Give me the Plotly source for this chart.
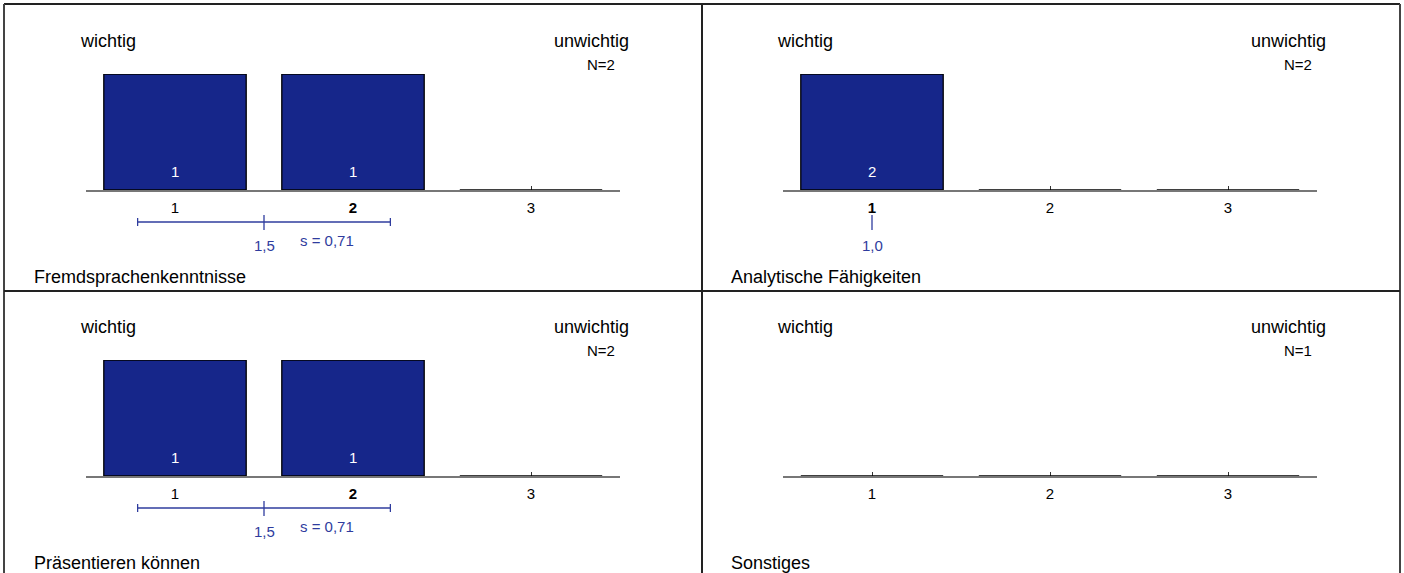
import plotly.graph_objects as go

# data
panel_titles = ["Fremdsprachenkenntnisse", "Analytische Fähigkeiten",
                "Präsentieren können", "Sonstiges"]
categories = [1, 2, 3]
counts = [
    [1, 1, 0],
    [2, 0, 0],
    [1, 1, 0],
    [0, 0, 0],
]
n_values = [2, 2, 2, 1]
means = [1.5, 1.0, 1.5, None]
std_devs = [0.71, 0.0, 0.71, None]
medians = [2, 1, 2, None]

W, H = 1404, 573
BAR_COLOR = "#16268a"
STAT_COLOR = "#2f3c9e"
FONT = "Arial, Liberation Sans, sans-serif"
BIG, SMALL = 18, 15


def px(x):
    return x / W


def py(y):
    return 1 - y / H


def de(v, fmt):
    return format(v, fmt).replace(".", ",")


def note(x, y, text, xref="paper", xanchor="center", size=SMALL, color="black"):
    return dict(x=x, y=y, xref=xref, yref="paper", text=text, showarrow=False,
                xanchor=xanchor, yanchor="middle", font=dict(size=size, color=color))


fig = go.Figure()
shapes = []
annotations = []

for i, title in enumerate(panel_titles):
    col, row = i % 2, i // 2
    dx, dy = col * 697, row * 286
    n = i + 1
    xa = "xaxis" if n == 1 else f"xaxis{n}"
    ya = "yaxis" if n == 1 else f"yaxis{n}"
    xr = "x" if n == 1 else f"x{n}"
    yr = "y" if n == 1 else f"y{n}"

    fig.add_trace(go.Bar(
        x=categories, y=counts[i], width=0.8,
        marker=dict(color=BAR_COLOR, line=dict(color="black", width=1.3)),
        xaxis=xr, yaxis=yr, hoverinfo="skip", showlegend=False,
    ))

    ticktext = [f"<b>{c}</b>" if c == medians[i] else str(c) for c in categories]
    fig.update_layout(**{
        xa: dict(domain=[px(86 + dx), px(620 + dx)], range=[0.5, 3.5],
                 anchor=yr, tickvals=categories, ticktext=ticktext,
                 ticks="inside", ticklen=4, tickcolor="#333", showline=True,
                 linecolor="#777", linewidth=1.5, showgrid=False, zeroline=False,
                 layer="below traces", fixedrange=True, ticklabelstandoff=3,
                 tickfont=dict(size=SMALL, color="black", family=FONT)),
        ya: dict(domain=[py(190 + dy), py(74 + dy)],
                 range=[0, max(max(counts[i]), 1)], anchor=xr,
                 visible=False, fixedrange=True),
    })

    # counts inside the bars
    for c, v in zip(categories, counts[i]):
        if v > 0:
            annotations.append(note(c, py(171 + dy), str(v), xref=xr, color="white"))

    # scale end labels and panel title
    annotations += [
        note(px(78 + dx), py(41 + dy), "wichtig", xanchor="left", size=BIG),
        note(px(631 + dx), py(41 + dy), "unwichtig", xanchor="right", size=BIG),
        note(px(617 + dx), py(64 + dy), f"N={n_values[i]}", xanchor="right"),
        note(px(32 + dx), py(277 + dy), title, xanchor="left", size=BIG),
    ]

    # mean and standard deviation
    m, s = means[i], std_devs[i]
    if m is not None:
        line = dict(color=STAT_COLOR, width=1.3)
        shapes.append(dict(type="line", xref=xr, yref="paper", x0=m, x1=m,
                           y0=py(215 + dy), y1=py(230 + dy), line=line))
        annotations.append(note(m, py(245 + dy), de(m, ".1f"), xref=xr, color=STAT_COLOR))
        if s > 0:
            shapes.append(dict(type="line", xref=xr, yref="paper", x0=m - s, x1=m + s,
                               y0=py(222 + dy), y1=py(222 + dy), line=line))
            for e in (m - s, m + s):
                shapes.append(dict(type="line", xref=xr, yref="paper", x0=e, x1=e,
                                   y0=py(218 + dy), y1=py(226 + dy), line=line))
            annotations.append(note(m + s / 2, py(240 + dy), f"s = {de(s, '.2f')}",
                                    xref=xr, color=STAT_COLOR))

# panel frame
frame = dict(color="#222", width=2)
side = dict(color="#444", width=2)
shapes += [
    dict(type="line", xref="paper", yref="paper", x0=px(4), x1=px(1400),
         y0=py(4), y1=py(4), line=frame),
    dict(type="line", xref="paper", yref="paper", x0=px(4), x1=px(4),
         y0=py(4), y1=py(573), line=side),
    dict(type="line", xref="paper", yref="paper", x0=px(1400), x1=px(1400),
         y0=py(4), y1=py(573), line=side),
    dict(type="line", xref="paper", yref="paper", x0=px(702), x1=px(702),
         y0=py(4), y1=py(573), line=frame),
    dict(type="line", xref="paper", yref="paper", x0=px(4), x1=px(1400),
         y0=py(291), y1=py(291), line=frame),
]

fig.update_layout(
    width=W, height=H,
    margin=dict(l=0, r=0, t=0, b=0),
    paper_bgcolor="white", plot_bgcolor="white",
    font=dict(family=FONT, color="black"),
    bargap=0.2,
    shapes=shapes,
    annotations=annotations,
)

# drop the default 8px page margin so the figure sits at the window origin
fig.write_html("out.html", config={"displayModeBar": False},
               post_script="document.body.style.margin = '0';")
